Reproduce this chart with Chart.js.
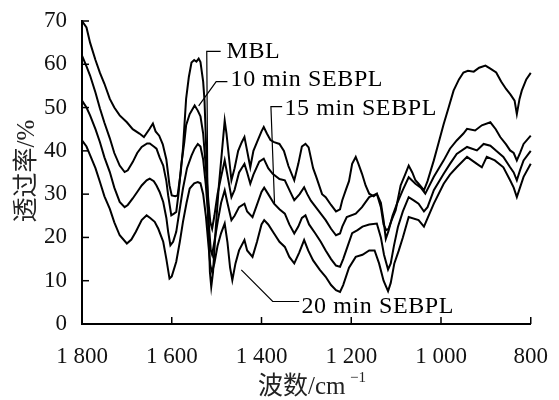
<!DOCTYPE html>
<html>
<head>
<meta charset="utf-8">
<script src="https://cdn.jsdelivr.net/npm/chart.js@4/dist/chart.umd.min.js"></script>
<style>
  html, body { margin: 0; padding: 0; background: #fff; }
  #wrap { width: 559px; height: 400px; }
</style>
</head>
<body>
<div id="wrap"><canvas id="ftir" width="559" height="400"></canvas></div>
<script>
// 波数 (cm-1) と 透过率 (%) — 图から読み取り
var mblWave = [1800,1790,1782,1770,1760,1750,1738,1728,1716,1700,1687,1672,1662,1650,1642,1636,1628,1620,1612,1605,1600,1592,1587,1580,1575,1568,1562,1556,1550,1545,1540,1536,1530,1527,1523,1519,1515,1512,1508,1502,1495,1488,1482,1478,1472,1467,1460,1452,1444,1438,1432,1425,1418,1410,1400,1395,1388,1380,1372,1360,1350,1340,1327,1318,1310,1302,1295,1285,1278,1265,1257,1245,1234,1225,1220,1212,1205,1198,1190,1184,1176,1168,1160,1150,1143,1134,1128,1122,1117,1110,1101,1090,1080,1072,1064,1057,1050,1038,1030,1016,1005,994,983,972,960,950,940,927,915,901,890,877,866,855,845,836,831,825,820,810,800];
var mblT    = [70,68.5,65,61,58,55.5,52,50,48.2,46.6,45,44,43.2,45,46.3,44.5,43.5,41.5,38,32,29.7,29.5,29.7,35,40.6,52,57,60.4,61,60.6,61.3,60.5,56,51.6,40,25,12,8.6,12,22,32,40,47,44,38,33.2,36,40,42,43.2,40,36.2,40,42,44.5,45.5,44,42.5,42,41.6,40,36.5,33.2,37,41,41.6,40.8,36,34,30,29.3,27.5,26,26.5,28.6,31,33,37,38.6,37,34.7,32,30.1,29.5,30.1,27,23,21.7,22,24,26.3,32,34.5,36.6,35,33.2,32.4,30.9,33,37.8,42,46.2,50,53.9,56.5,58.1,58.5,58.3,59.2,59.7,59,58.1,56,54.3,53,51.6,48.5,52,53.9,56.5,58];

var min10Wave = [1800,1790,1782,1770,1760,1750,1738,1728,1716,1705,1698,1687,1677,1667,1655,1649,1640,1634,1627,1619,1612,1608,1601,1595,1590,1585,1579,1572,1568,1560,1549,1542,1536,1530,1524,1518,1514,1510,1505,1498,1490,1482,1477,1470,1467,1460,1450,1438,1432,1425,1418,1405,1395,1385,1375,1360,1348,1338,1327,1315,1305,1298,1290,1279,1268,1257,1245,1234,1225,1220,1210,1190,1176,1160,1143,1134,1128,1123,1117,1108,1098,1085,1072,1057,1045,1035,1016,994,980,965,950,942,924,909,890,878,868,855,846,838,831,824,816,800];
var min10T    = [62,59.5,57.4,53.5,49.8,46.5,42.9,39.5,36.6,35.1,35.5,37.4,39.5,40.9,41.7,41.7,41,40.5,38.5,36.6,33,29.7,25.1,25.5,25.9,30,36.6,42,45.9,48.5,50.5,49.3,48,44,36,28,23.5,22,25,30,34,37.8,35,31,29.3,31,35,37,35,32.4,34.5,37.5,38.2,36,34.7,33.5,33.2,31,28.6,30,31.6,30,28.5,27,25.5,24,22,20.5,20.9,22.5,24.7,25.5,27,29.3,30.1,28,24,19.7,21.5,25,27.8,31,33.9,32.4,31.5,30.1,34,37.8,40.5,42.4,44,45.1,44.7,45.9,46.6,45,43.2,41.5,40.1,39.5,37.8,39.5,41.6,43.5];

var min15Wave = [1800,1790,1782,1770,1760,1750,1738,1728,1716,1705,1698,1687,1677,1667,1656,1649,1640,1634,1627,1619,1612,1608,1603,1597,1590,1583,1575,1566,1556,1549,1542,1536,1530,1524,1518,1513,1510,1505,1497,1490,1482,1476,1467,1460,1450,1438,1432,1420,1412,1400,1394,1385,1372,1360,1348,1338,1327,1318,1310,1302,1294,1280,1268,1257,1245,1234,1225,1218,1208,1198,1186,1175,1160,1143,1134,1127,1118,1112,1105,1096,1085,1072,1060,1050,1038,1030,1016,994,980,965,942,920,905,890,877,861,846,838,831,824,816,800];
var min15T    = [51.6,50,48.2,45,42,38.5,35.1,31.5,28.2,27,27.5,29,30.5,32,33.2,33.6,33,32,30.5,28.2,24.5,21.3,18.2,19,21.3,26,31.3,36,38.9,40.5,41.6,41,38,32,24,17,16,19,24,28,30.9,28,24,25,27,27.8,26,24.7,27,30.5,31.5,30,27.8,26.5,25.5,23,20.9,22.5,24.5,25.1,23,20.9,19,17,15,13.5,13.2,15,18,21,21.7,22.5,23,23.2,20,16,12.6,14,18,22.4,26,29.3,28.5,27.8,26,27,30.9,34.7,37,39.3,40.9,40.1,41.6,41.2,40,38.6,36.2,35,33.2,35.5,37.8,40];

var min20Wave = [1800,1790,1782,1770,1760,1750,1738,1728,1716,1700,1690,1680,1667,1656,1648,1638,1630,1619,1612,1605,1600,1590,1582,1575,1567,1560,1550,1542,1536,1530,1524,1518,1514,1510,1505,1498,1490,1482,1476,1470,1465,1458,1450,1438,1432,1420,1410,1400,1394,1385,1372,1360,1348,1338,1327,1316,1305,1296,1285,1270,1257,1245,1234,1225,1218,1205,1190,1175,1160,1148,1138,1128,1118,1112,1104,1094,1085,1072,1050,1038,1016,994,980,965,942,920,909,898,880,861,846,838,831,824,816,800];
var min20T    = [42.4,41,39,36,32.8,29.5,26.6,23.5,20.5,18.6,19.5,21.3,24,25.1,24.5,23.6,22,19,15,10.5,11,14.4,19,23.6,28,31.3,32.5,32.8,32.5,30,25,18,13.5,12,14,18,21,23.2,19,13,10.1,14,17,19.4,17,15.5,19,23,24,23,20.9,19,17.8,15.5,14,16.5,19.4,17,14.7,12.5,10.9,9,7.8,7.4,9,13,15.5,16,17,17,14,10,7.6,9.5,14,17,20,24.7,24,22.5,27.8,32.4,34.5,36.2,38.6,37,36.2,38.6,37.8,36.2,33.2,31.5,29.3,31.5,34,37];

var xTicks = [1800, 1600, 1400, 1200, 1000, 800];
var yTicks = [0, 10, 20, 30, 40, 50, 60, 70];

// 注释: 文字, 文字位置(波数, 值), 引线点
var notes = [
  { text: "MBL",          at: [1478, 61.4], lead: [[1491, 63], [1522, 63], [1519, 20.3]] },
  { text: "10 min SEBPL", at: [1469, 55],   lead: [[1476, 56], [1501, 56], [1540, 50.4]] },
  { text: "15 min SEBPL", at: [1349, 48.3], lead: [[1354, 50.2], [1379, 50.2], [1371, 27.9]] },
  { text: "20 min SEBPL", at: [1311, 2.5],  lead: [[1316, 5.2], [1375, 5.2], [1445, 12.5]] }
];

function pts(w, t) {
  return w.map(function (v, i) { return { x: v, y: t[i] }; });
}

var serif = '"Liberation Serif", "Times New Roman", serif';

var extras = {
  id: 'extras',
  afterDraw: function (chart) {
    var ctx = chart.ctx, xs = chart.scales.x, ys = chart.scales.y;
    var x0 = xs.getPixelForValue(1800), y0 = ys.getPixelForValue(0);
    ctx.save();
    ctx.strokeStyle = '#000';
    ctx.lineWidth = 1.5;
    // 内向きの目盛り
    yTicks.forEach(function (v) {
      if (v === 0) return;
      var y = ys.getPixelForValue(v);
      ctx.beginPath(); ctx.moveTo(x0, y); ctx.lineTo(x0 + 7, y); ctx.stroke();
    });
    xTicks.forEach(function (v) {
      if (v === 1800) return;
      var x = xs.getPixelForValue(v);
      ctx.beginPath(); ctx.moveTo(x, y0); ctx.lineTo(x, y0 - 7); ctx.stroke();
    });
    // 引线とラベル
    ctx.lineWidth = 1.2;
    ctx.fillStyle = '#000';
    ctx.font = '24px ' + serif;
    ctx.letterSpacing = '0.6px';
    ctx.textBaseline = 'alphabetic';
    ctx.textAlign = 'left';
    notes.forEach(function (n) {
      ctx.beginPath();
      n.lead.forEach(function (p, i) {
        var px = xs.getPixelForValue(p[0]), py = ys.getPixelForValue(p[1]);
        if (i === 0) ctx.moveTo(px, py); else ctx.lineTo(px, py);
      });
      ctx.stroke();
      ctx.fillText(n.text, xs.getPixelForValue(n.at[0]), ys.getPixelForValue(n.at[1]));
    });
    ctx.letterSpacing = '0px';
    // 軸タイトル
    ctx.save();
    ctx.translate(25, 171);
    ctx.rotate(-Math.PI / 2);
    ctx.textAlign = 'center';
    ctx.font = '25px ' + serif + ', "Noto Sans CJK SC"';
    ctx.fillStyle = '#222';
    ctx.fillText('透过率/%', 0, 9);
    ctx.restore();
    ctx.font = '25px ' + serif + ', "Noto Sans CJK SC"';
    ctx.fillStyle = '#222';
    ctx.textAlign = 'left';
    ctx.fillText('波数/cm', 258, 394);
    ctx.font = '15px ' + serif;
    ctx.fillText('\u22121', 350, 382);
    ctx.restore();
  }
};

function line(label, w, t) {
  return {
    label: label,
    data: pts(w, t),
    borderColor: '#000',
    borderWidth: 2,
    pointRadius: 0,
    tension: 0,
    fill: false,
    clip: false
  };
}

new Chart(document.getElementById('ftir'), {
  type: 'line',
  data: {
    datasets: [
      line('MBL', mblWave, mblT),
      line('10 min SEBPL', min10Wave, min10T),
      line('15 min SEBPL', min15Wave, min15T),
      line('20 min SEBPL', min20Wave, min20T)
    ]
  },
  options: {
    responsive: false,
    animation: false,
    layout: { padding: { top: 21, right: 27, left: 0, bottom: 0 } },
    plugins: { legend: { display: false }, tooltip: { enabled: false } },
    scales: {
      x: {
        type: 'linear',
        reverse: true,
        min: 800,
        max: 1800,
        afterBuildTicks: function (s) { s.ticks = xTicks.map(function (v) { return { value: v }; }); },
        afterFit: function (s) { s.height = 76; },
        grid: { display: false },
        border: { display: true, color: '#000', width: 2 },
        ticks: {
          color: '#111',
          font: { family: serif, size: 23 },
          padding: 11,
          maxRotation: 0,
          autoSkip: false,
          callback: function (v) { return v >= 1000 ? Math.floor(v / 1000) + ' ' + String(v).slice(1) : String(v); }
        }
      },
      y: {
        min: 0,
        max: 70,
        afterBuildTicks: function (s) { s.ticks = yTicks.map(function (v) { return { value: v }; }); },
        afterFit: function (s) { s.width = 82; },
        grid: { display: false },
        border: { display: true, color: '#000', width: 2 },
        ticks: {
          color: '#111',
          font: { family: serif, size: 23 },
          padding: 7
        }
      }
    }
  },
  plugins: [extras]
});
</script>
</body>
</html>
